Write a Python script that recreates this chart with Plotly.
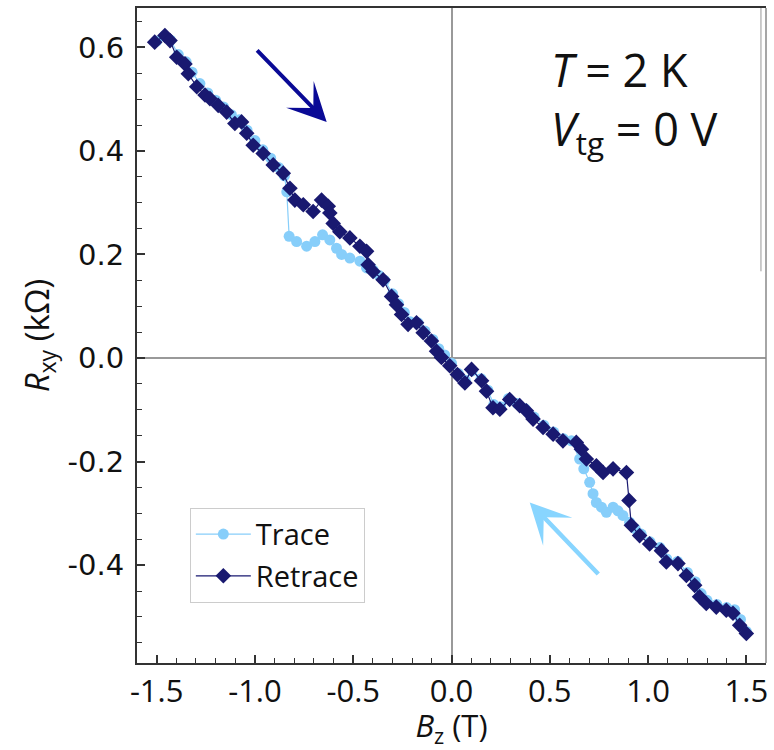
import plotly.graph_objects as go

# ---- data ----
trace_B = [-1.50, -1.46, -1.43, -1.39, -1.35, -1.32, -1.28, -1.24, -1.20, -1.16, -1.12, -1.08, -1.04, -1.00,
           -0.96, -0.92, -0.88, -0.85, -0.838, -0.826, -0.788, -0.737, -0.695, -0.656, -0.619, -0.585, -0.559,
           -0.517, -0.466, -0.432, -0.399, -0.37, -0.34, -0.30, -0.27, -0.24, -0.21, -0.17, -0.135, -0.095,
           -0.065, -0.035, 0.0, 0.035, 0.07, 0.105, 0.15, 0.185, 0.215, 0.25, 0.29, 0.335, 0.375, 0.42, 0.47,
           0.52, 0.57, 0.61, 0.652, 0.673, 0.703, 0.720, 0.737, 0.763, 0.788, 0.822, 0.847, 0.872, 0.906, 0.935,
           0.965, 1.01, 1.06, 1.095, 1.15, 1.20, 1.24, 1.27, 1.30, 1.35, 1.40, 1.44, 1.47, 1.50]
trace_R = [0.612, 0.622, 0.614, 0.586, 0.572, 0.552, 0.530, 0.512, 0.498, 0.485, 0.470, 0.460, 0.440, 0.420,
           0.402, 0.386, 0.368, 0.352, 0.321, 0.235, 0.225, 0.216, 0.225, 0.238, 0.228, 0.212, 0.200, 0.193,
           0.187, 0.174, 0.170, 0.160, 0.150, 0.124, 0.105, 0.088, 0.070, 0.068, 0.052, 0.036, 0.018, 0.006,
           -0.010, -0.030, -0.043, -0.025, -0.040, -0.062, -0.090, -0.094, -0.078, -0.088, -0.098, -0.114,
           -0.130, -0.143, -0.156, -0.160, -0.195, -0.214, -0.240, -0.262, -0.279, -0.288, -0.298, -0.288,
           -0.295, -0.304, -0.317, -0.330, -0.340, -0.355, -0.366, -0.388, -0.393, -0.414, -0.432, -0.455,
           -0.468, -0.476, -0.482, -0.486, -0.505, -0.528]

retrace_B = [-1.51, -1.458, -1.432, -1.398, -1.356, -1.339, -1.296, -1.254, -1.229, -1.187, -1.144, -1.102,
             -1.068, -1.042, -1.009, -0.958, -0.907, -0.856, -0.822, -0.797, -0.754, -0.704, -0.661, -0.627,
             -0.619, -0.602, -0.568, -0.517, -0.466, -0.432, -0.424, -0.399, -0.348, -0.305, -0.280, -0.254,
             -0.221, -0.178, -0.144, -0.102, -0.076, -0.051, -0.009, 0.030, 0.068, 0.102, 0.153, 0.178, 0.211,
             0.246, 0.296, 0.347, 0.381, 0.415, 0.466, 0.517, 0.567, 0.635, 0.661, 0.686, 0.737, 0.771, 0.822,
             0.890, 0.903, 0.915, 0.957, 1.008, 1.068, 1.093, 1.152, 1.195, 1.237, 1.262, 1.296, 1.347, 1.398,
             1.432, 1.466, 1.500]
retrace_R = [0.610, 0.623, 0.613, 0.581, 0.568, 0.549, 0.524, 0.508, 0.501, 0.488, 0.475, 0.453, 0.456, 0.434,
             0.411, 0.395, 0.373, 0.357, 0.328, 0.305, 0.296, 0.283, 0.305, 0.293, 0.280, 0.260, 0.244, 0.232,
             0.216, 0.206, 0.180, 0.167, 0.151, 0.119, 0.103, 0.084, 0.065, 0.068, 0.049, 0.033, 0.013, 0.001,
             -0.015, -0.032, -0.048, -0.022, -0.044, -0.064, -0.096, -0.099, -0.080, -0.092, -0.102, -0.118,
             -0.134, -0.147, -0.160, -0.163, -0.176, -0.195, -0.208, -0.221, -0.214, -0.221, -0.275, -0.323,
             -0.343, -0.359, -0.372, -0.394, -0.397, -0.420, -0.439, -0.461, -0.474, -0.481, -0.487, -0.493,
             -0.516, -0.532]

x_tickvals = [-1.5, -1.0, -0.5, 0.0, 0.5, 1.0, 1.5]
x_ticktext = ["-1.5", "-1.0", "-0.5", "0.0", "0.5", "1.0", "1.5"]
y_tickvals = [0.6, 0.4, 0.2, 0.0, -0.2, -0.4]
y_ticktext = ["0.6", "0.4", "0.2", "0.0", "-0.2", "-0.4"]

LIGHT = "#87CEFA"
DARK = "#191970"

fig = go.Figure()
fig.add_trace(go.Scatter(
    x=trace_B, y=trace_R, mode="lines+markers", name="Trace", legendgroup="a",
    line=dict(color=LIGHT, width=1.2),
    marker=dict(symbol="circle", size=11, color=LIGHT),
))
fig.add_trace(go.Scatter(
    x=retrace_B, y=retrace_R, mode="lines+markers", name="Retrace", legendgroup="b",
    line=dict(color=DARK, width=1.2),
    marker=dict(symbol="diamond", size=12, color=DARK),
))

fig.update_xaxes(
    range=[-1.6, 1.6], tickvals=x_tickvals, ticktext=x_ticktext,
    ticks="inside", ticklen=8, tickwidth=1.5, tickcolor="#333",
    minor=dict(dtick=0.1, ticks="inside", ticklen=5, tickwidth=1.2, tickcolor="#333"),
    showline=True, linecolor="#333", linewidth=2, mirror=True,
    showgrid=False, zeroline=True, zerolinecolor="#999", zerolinewidth=1.5,
    tickfont=dict(family="Open Sans", size=31, color="#111"),
    ticklabelstandoff=0,
    title=dict(text="<i>B</i><sub>z</sub> (T)", font=dict(family="Open Sans", size=31, color="#111"), standoff=6),
)
fig.update_yaxes(
    range=[-0.589, 0.676], tickvals=y_tickvals, ticktext=y_ticktext,
    ticks="inside", ticklen=8, tickwidth=1.5, tickcolor="#333",
    minor=dict(dtick=0.05, ticks="inside", ticklen=5, tickwidth=1.2, tickcolor="#333"),
    showline=True, linecolor="#333", linewidth=2, mirror=False,
    showgrid=False, zeroline=True, zerolinecolor="#999", zerolinewidth=1.5,
    tickfont=dict(family="DejaVu Sans", size=29, color="#111"),
    ticklabelstandoff=5,
    title=dict(text="<i>R</i><sub>xy</sub> (kΩ)", font=dict(family="Open Sans", size=33, color="#111"), standoff=8),
)

# right frame line (grey) and the thin inner line near the right edge
fig.add_shape(type="line", xref="paper", yref="paper", x0=1, x1=1, y0=0, y1=1,
              line=dict(color="#888", width=1.5))
fig.add_shape(type="line", xref="paper", yref="paper", x0=0.992, x1=0.992, y0=0.598, y1=1,
              line=dict(color="#999", width=1))

# arrows
fig.add_annotation(x=-0.635, y=0.456, ax=-71, ay=-73, axref="pixel", ayref="pixel",
                   text="", showarrow=True, arrowhead=3, arrowsize=1.6, arrowwidth=4, arrowcolor="#0A0A96")
fig.add_annotation(x=0.398, y=-0.279, ax=70, ay=73, axref="pixel", ayref="pixel",
                   text="", showarrow=True, arrowhead=3, arrowsize=1.5, arrowwidth=4.5, arrowcolor="#88D5FF")

# text annotation
fig.add_annotation(xref="paper", yref="paper", x=0.655, y=0.955, xanchor="left", yanchor="top",
                   text="<i>T</i> = 2 K<br><i>V</i><sub>tg</sub> = 0 V", showarrow=False, align="left",
                   font=dict(family="Open Sans", size=45, color="#111"))

fig.update_layout(
    width=774, height=750,
    margin=dict(l=137, r=8, t=6, b=87),
    paper_bgcolor="white", plot_bgcolor="white",
    legend=dict(x=0.084, y=0.237, xanchor="left", yanchor="top",
                bordercolor="#ccc", borderwidth=1, bgcolor="white",
                font=dict(family="Open Sans", size=29, color="#111"),
                itemwidth=55, entrywidth=185,
                traceorder="grouped", tracegroupgap=1),
)

fig.write_html("out.html")
